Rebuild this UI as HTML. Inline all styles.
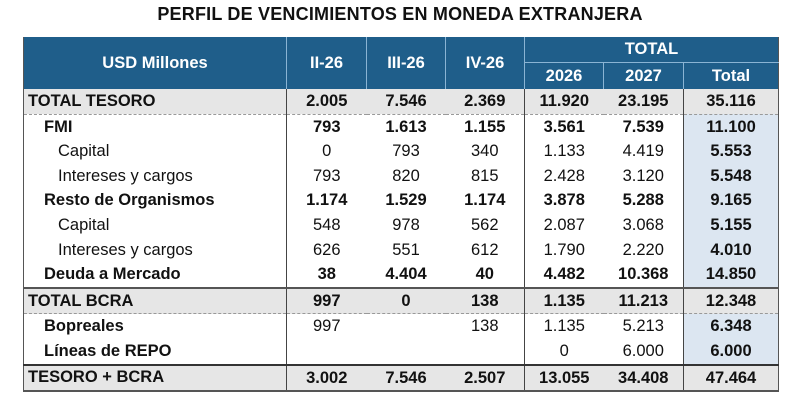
<!DOCTYPE html>
<html><head><meta charset="utf-8"><style>
body{margin:0;width:800px;height:402px;background:#fff;font-family:"Liberation Sans",Arial,sans-serif;position:relative;overflow:hidden}
#title{position:absolute;top:4px;left:0;width:800px;text-align:center;font-weight:bold;font-size:18px;color:#111;letter-spacing:0.2px}
table{position:absolute;left:23px;top:37px;border-collapse:collapse;table-layout:fixed;width:755px;font-size:16.5px;color:#111}
td,th{padding:0;height:24.6px;line-height:24.6px;white-space:nowrap}
th{background:#1f5e8a;color:#fff;font-weight:bold;font-size:16.5px;border-right:1.5px solid #8ab4d4;text-align:center}
th:last-child{border-right:none}
td.n{text-align:center}
td.l{padding-left:4px}
td.l2{padding-left:20px}
td.l3{padding-left:34px}
.b{font-weight:bold}
tr.tot td{background:#e6e6e6;font-weight:bold}
td.tc{background:#dce6f1;font-weight:bold}
tr.tot td.tc{background:#e6e6e6}
td.vl{border-left:1px solid #444}
td.vr{border-right:1px solid #444}
tr.top td{border-top:2px solid #555}
tr.bot td{border-bottom:2px solid #555}
tr.dash td{border-bottom:1px dashed #999}
tr.thick td{border-top:2px solid #333}
table{border-left:1px solid #555;border-right:1px solid #555}
</style></head><body>
<div id="title">PERFIL DE VENCIMIENTOS EN MONEDA EXTRANJERA</div>
<table>
<colgroup><col style="width:263px"><col style="width:80px"><col style="width:79px"><col style="width:79px"><col style="width:79px"><col style="width:80px"><col style="width:95px"></colgroup>
<tr><th rowspan="2">USD Millones</th><th rowspan="2">II-26</th><th rowspan="2">III-26</th><th rowspan="2">IV-26</th><th colspan="3" style="border-bottom:1.5px solid #8ab4d4;height:25px;line-height:25px">TOTAL</th></tr>
<tr><th style="height:26px;line-height:26px">2026</th><th>2027</th><th>Total</th></tr>
<tr class="tot dash"><td class="l">TOTAL TESORO</td><td class="n vl">2.005</td><td class="n">7.546</td><td class="n vr">2.369</td><td class="n">11.920</td><td class="n vr">23.195</td><td class="n tc">35.116</td></tr>
<tr><td class="l2 b">FMI</td><td class="n vl b">793</td><td class="n b">1.613</td><td class="n vr b">1.155</td><td class="n b">3.561</td><td class="n vr b">7.539</td><td class="n tc">11.100</td></tr>
<tr><td class="l3">Capital</td><td class="n vl">0</td><td class="n">793</td><td class="n vr">340</td><td class="n">1.133</td><td class="n vr">4.419</td><td class="n tc">5.553</td></tr>
<tr><td class="l3">Intereses y cargos</td><td class="n vl">793</td><td class="n">820</td><td class="n vr">815</td><td class="n">2.428</td><td class="n vr">3.120</td><td class="n tc">5.548</td></tr>
<tr><td class="l2 b">Resto de Organismos</td><td class="n vl b">1.174</td><td class="n b">1.529</td><td class="n vr b">1.174</td><td class="n b">3.878</td><td class="n vr b">5.288</td><td class="n tc">9.165</td></tr>
<tr><td class="l3">Capital</td><td class="n vl">548</td><td class="n">978</td><td class="n vr">562</td><td class="n">2.087</td><td class="n vr">3.068</td><td class="n tc">5.155</td></tr>
<tr><td class="l3">Intereses y cargos</td><td class="n vl">626</td><td class="n">551</td><td class="n vr">612</td><td class="n">1.790</td><td class="n vr">2.220</td><td class="n tc">4.010</td></tr>
<tr><td class="l2 b">Deuda a Mercado</td><td class="n vl b">38</td><td class="n b">4.404</td><td class="n vr b">40</td><td class="n b">4.482</td><td class="n vr b">10.368</td><td class="n tc">14.850</td></tr>
<tr class="tot top dash"><td class="l">TOTAL BCRA</td><td class="n vl">997</td><td class="n">0</td><td class="n vr">138</td><td class="n">1.135</td><td class="n vr">11.213</td><td class="n tc">12.348</td></tr>
<tr><td class="l2 b">Bopreales</td><td class="n vl">997</td><td class="n"></td><td class="n vr">138</td><td class="n">1.135</td><td class="n vr">5.213</td><td class="n tc">6.348</td></tr>
<tr><td class="l2 b" style="height:23px;line-height:23px">Líneas de REPO</td><td class="n vl"></td><td class="n"></td><td class="n vr"></td><td class="n">0</td><td class="n vr">6.000</td><td class="n tc">6.000</td></tr>
<tr class="tot thick bot"><td class="l" style="height:23px;line-height:23px">TESORO + BCRA</td><td class="n vl">3.002</td><td class="n">7.546</td><td class="n vr">2.507</td><td class="n">13.055</td><td class="n vr">34.408</td><td class="n tc">47.464</td></tr>
</table>
</body></html>
